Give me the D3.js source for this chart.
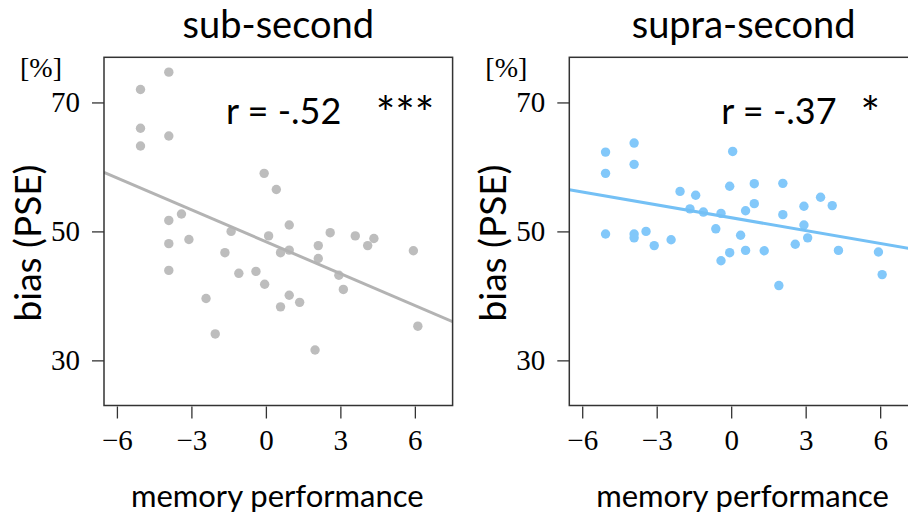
<!doctype html>
<html>
<head>
<meta charset="utf-8">
<title>bias vs memory performance</title>
<script src="https://cdnjs.cloudflare.com/ajax/libs/d3/7.8.5/d3.min.js"></script>
<style>
  html, body { margin: 0; padding: 0; background: #fff; }
  svg { display: block; }
  .sans { font-family: Lato, "Open Sans", sans-serif; fill: #000; }
  .tick text { font-family: "Liberation Serif", "DejaVu Serif", serif; font-size: 29px; fill: #000; }
  .tick line { stroke: #333; stroke-width: 1.3; }
</style>
</head>
<body>
<div id="chart"></div>
<script>
// memory performance (x) vs bias PSE in % (y)
const subX = [-5.05, -3.91, -5.05, -5.05, -3.91, -0.07, 0.42, -3.4, -3.91, 0.94,
              -1.4, 2.59, 3.6, 4.35, 4.1, 0.11, -3.91, -3.1, 5.94, 2.11,
              0.94, 0.59, -1.65, 2.11, -3.91, -1.09, -0.4, 2.94, -0.05, 3.12,
              0.94, -2.41, 1.36, 0.59, -2.04, 6.12, 1.98];
const subY = [72.0, 74.7, 66.0, 63.25, 64.8, 59.0, 56.5, 52.7, 51.7, 51.0,
              50.0, 49.8, 49.3, 48.9, 47.8, 49.3, 48.1, 48.75, 47.0, 47.8,
              47.1, 46.7, 46.7, 45.8, 43.95, 43.5, 43.8, 43.2, 41.8, 41.0,
              40.1, 39.6, 39.0, 38.3, 34.1, 35.3, 31.6];

const supraX = [-5.06, -3.91, -5.06, -3.91, 0.06, -2.06, -1.43, -0.06, 0.93, 2.08,
                0.93, 0.58, 3.6, 4.07, 2.93, -1.66, -1.12, -0.41, 2.08, 2.93,
                -0.62, -5.06, -3.91, -3.91, -3.43, -3.1, -2.42, 0.38, 3.08, 2.58,
                -0.06, 0.58, 1.33, 4.32, 5.93, -0.41, 6.08, 1.92];
const supraY = [62.3, 63.7, 59.0, 60.4, 62.4, 56.2, 55.6, 57.0, 57.4, 57.45,
                54.3, 53.2, 55.3, 54.0, 53.9, 53.5, 53.0, 52.8, 52.6, 51.0,
                50.4, 49.6, 49.6, 49.0, 50.0, 47.8, 48.7, 49.4, 49.0, 48.0,
                46.7, 47.05, 47.0, 47.05, 46.8, 45.45, 43.3, 41.6];

const panelTitles = ['sub-second', 'supra-second'];
const rLabels = ['r = -.52', 'r = -.37'];
const starLabels = ['***', '*'];
const xTicks = [-6, -3, 0, 3, 6];
const yTicks = [30, 50, 70];

const panels = [
  { xs: subX, ys: subY, left: 104, dot: '#bdbdbd', line: '#b3b3b3', rOff: 122 },
  { xs: supraX, ys: supraY, left: 569.3, dot: '#82c8fa', line: '#74c0f5', rOff: 152 }
];

const boxW = 348.6, boxTop = 57.3, boxBottom = 405.5;

const svg = d3.select('#chart')
  .append('svg')
  .attr('width', 908)
  .attr('height', 518);

// least squares fit for the trend line
function ols(xs, ys) {
  const mx = d3.mean(xs), my = d3.mean(ys);
  let sxy = 0, sxx = 0;
  xs.forEach((x, i) => { sxy += (x - mx) * (ys[i] - my); sxx += (x - mx) * (x - mx); });
  const b = sxy / sxx;
  return { a: my - b * mx, b: b };
}

panels.forEach((p, k) => {
  const x = d3.scaleLinear().domain([-6.52, 7.52]).range([p.left, p.left + boxW]);
  const y = d3.scaleLinear().domain([23, 77]).range([boxBottom, boxTop]);
  const g = svg.append('g');

  g.append('clipPath').attr('id', 'clip' + k)
    .append('rect')
    .attr('x', p.left).attr('y', boxTop)
    .attr('width', boxW).attr('height', boxBottom - boxTop);

  // points
  g.append('g')
    .selectAll('circle')
    .data(p.xs.map((v, i) => [v, p.ys[i]]))
    .join('circle')
    .attr('cx', d => x(d[0]))
    .attr('cy', d => y(d[1]))
    .attr('r', 4.7)
    .style('fill', p.dot);

  // regression line
  const fit = ols(p.xs, p.ys);
  const dom = x.domain();
  g.append('line')
    .attr('clip-path', 'url(#clip' + k + ')')
    .attr('x1', x(dom[0])).attr('y1', y(fit.a + fit.b * dom[0]))
    .attr('x2', x(dom[1])).attr('y2', y(fit.a + fit.b * dom[1]))
    .style('stroke', p.line)
    .style('stroke-width', 3);

  // box
  g.append('rect')
    .attr('x', p.left).attr('y', boxTop)
    .attr('width', boxW).attr('height', boxBottom - boxTop)
    .style('fill', 'none')
    .style('stroke', '#333')
    .style('stroke-width', 1.5);

  // axes
  const ya = g.append('g')
    .attr('transform', `translate(${p.left},0)`)
    .call(d3.axisLeft(y).tickValues(yTicks).tickSize(12).tickPadding(12));
  ya.select('.domain').remove();

  const xa = g.append('g')
    .attr('transform', `translate(0,${boxBottom + 1})`)
    .call(d3.axisBottom(x).tickValues(xTicks).tickSize(12).tickPadding(11));
  xa.select('.domain').remove();

  // texts
  g.append('text').attr('class', 'sans')
    .attr('x', p.left + boxW / 2).attr('y', 38)
    .attr('text-anchor', 'middle')
    .style('font-size', '38px')
    .text(panelTitles[k]);

  g.append('text').attr('class', 'sans')
    .attr('x', p.left + p.rOff).attr('y', 124)
    .style('font-size', '36px')
    .text(rLabels[k]);

  g.append('text').attr('class', 'sans')
    .attr('x', p.left + 301).attr('y', 130)
    .attr('text-anchor', 'middle')
    .style('font-size', '46px')
    .text(starLabels[k]);

  g.append('text')
    .attr('x', p.left - 42).attr('y', 77)
    .attr('text-anchor', 'end')
    .style('font-family', '"Liberation Serif", serif')
    .style('font-size', '28px')
    .text('[%]');

  g.append('text').attr('class', 'sans')
    .attr('transform', `translate(${p.left - 63},243) rotate(-90)`)
    .attr('text-anchor', 'middle')
    .style('font-size', '37px')
    .text('bias (PSE)');

  g.append('text').attr('class', 'sans')
    .attr('x', p.left + boxW / 2 - 1).attr('y', 507)
    .attr('text-anchor', 'middle')
    .style('font-size', '31px')
    .text('memory performance');
});
</script>
</body>
</html>
